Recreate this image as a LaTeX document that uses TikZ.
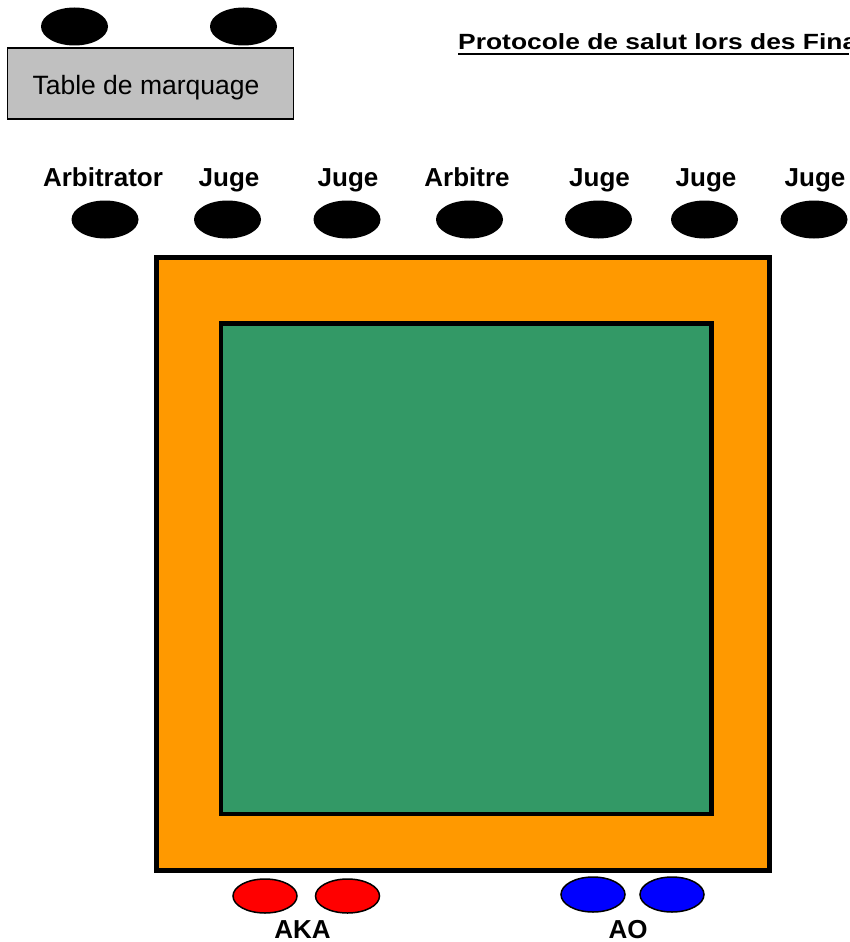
\documentclass[tikz,border=0pt]{standalone}
\usepackage{fontspec}
\setmainfont{Liberation Sans}
\newfontfamily\titlefont[FakeStretch=1.2]{Liberation Sans}
\usetikzlibrary{shapes.geometric}
\definecolor{matorange}{HTML}{FF9900}
\definecolor{matgreen}{HTML}{339966}
\definecolor{tablegray}{HTML}{C0C0C0}
\definecolor{akared}{HTML}{FF0000}
\definecolor{aoblue}{HTML}{0000FF}
\begin{document}
\begin{tikzpicture}[x=1pt,y=-1pt,
  seat/.style={ellipse,fill=black,inner sep=0pt,minimum width=67pt,minimum height=38pt},
  fighter/.style={ellipse,draw=black,line width=1.5pt,inner sep=0pt,minimum width=64pt,minimum height=34pt},
  role/.style={font=\fontsize{26}{28}\selectfont\bfseries,inner sep=0pt,anchor=base}
]
\useasboundingbox (0,0) rectangle (849,942);
\clip (0,0) rectangle (849,942);
% scoring table
\node[seat] (t1) at (74.5,26.5) {};
\node[seat] (t2) at (243.5,26.5) {};
\node[draw=black,line width=1.5pt,fill=tablegray,minimum width=286pt,minimum height=71pt,inner sep=0pt] (table) at (150.5,83.5) {};
\node[font=\fontsize{26.5}{28}\selectfont,inner sep=0pt,anchor=base] (tabletext) at (146,94) {Table de marquage};
% title
\node[font=\titlefont\fontsize{22}{24}\selectfont\bfseries,inner sep=0pt,anchor=base west] (title) at (458,50) {Protocole de salut lors des Fina};
\coordinate (ulend) at (849,54);
\draw[line width=2.8pt] (title.base west |- ulend) -- (ulend);
% officials
\node[role] (l1) at (103,186) {Arbitrator};
\node[role] (l2) at (229,186) {Juge};
\node[role] (l3) at (348,186) {Juge};
\node[role] (l4) at (467,186) {Arbitre};
\node[role] (l5) at (599.5,186) {Juge};
\node[role] (l6) at (706,186) {Juge};
\node[role] (l7) at (815,186) {Juge};
\node[seat] (s1) at (105,219.5) {};
\node[seat] (s2) at (227.5,219.5) {};
\node[seat] (s3) at (347,219.5) {};
\node[seat] (s4) at (469.5,219.5) {};
\node[seat] (s5) at (598.5,219.5) {};
\node[seat] (s6) at (704.5,219.5) {};
\node[seat] (s7) at (814,219.5) {};
% mat
\draw[line width=5pt,fill=matorange] (156.5,257.5) rectangle (769.5,870);
\draw[line width=4.5pt,fill=matgreen] (221,323.5) rectangle (711.5,814);
% competitors
\node[fighter,fill=akared] (r1) at (265,896) {};
\node[fighter,fill=akared] (r2) at (347.5,896) {};
\node[fighter,fill=aoblue,minimum height=35pt] (b1) at (593,894.5) {};
\node[fighter,fill=aoblue,minimum height=35pt] (b2) at (672,894.5) {};
\node[role] (aka) at (302.5,938) {AKA};
\node[role] (ao) at (628,938) {AO};
\end{tikzpicture}
\end{document}
